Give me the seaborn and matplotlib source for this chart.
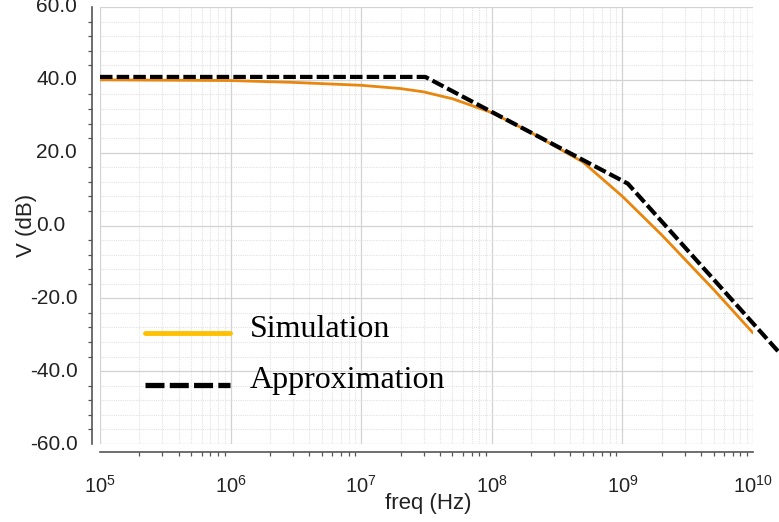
import numpy as np
import pandas as pd
import matplotlib
matplotlib.use("Agg")
import matplotlib.pyplot as plt
import matplotlib.transforms as mtransforms
import seaborn as sns
from matplotlib.ticker import MultipleLocator, LogLocator, NullFormatter
from matplotlib.lines import Line2D
from matplotlib.legend_handler import HandlerLine2D

# ---- data ----
sim_freq = [1e5, 1e6, 3e6, 1e7, 2e7, 3e7, 5e7, 1e8, 2e8, 5e8, 1e9, 2e9, 5e9, 1e10]
sim_db = [40.0, 39.8, 39.3, 38.5, 37.6, 36.7, 34.8, 31.0, 25.5, 17.4, 8.0, -2.6, -17.6, -29.5]

approx_freq = [1e5, 3.1e7, 1.1e9, 2e10]
approx_db = [40.8, 40.8, 11.5, -38.9]

legend_labels = ["Simulation", "Approximation"]
y_ticks = [-60, -40, -20, 0, 20, 40, 60]

sns.set_style("white")
plt.rcParams["font.family"] = ["Liberation Sans", "DejaVu Sans"]
plt.rcParams["mathtext.fontset"] = "custom"
plt.rcParams["mathtext.rm"] = "Liberation Sans"
plt.rcParams["mathtext.it"] = "Liberation Sans"
plt.rcParams["mathtext.bf"] = "Liberation Sans"
plt.rcParams["mathtext.default"] = "regular"

W, H = 779, 522
fig = plt.figure(figsize=(W / 100, H / 100), dpi=100)
ax = fig.add_axes([100 / W, 1 - 444 / H, 653 / W, 437 / H])

sim_df = pd.DataFrame({"freq": sim_freq, "dB": sim_db})
app_df = pd.DataFrame({"freq": approx_freq, "dB": approx_db})

sns.lineplot(data=sim_df, x="freq", y="dB", ax=ax, color="#E8860E", lw=2.0, zorder=3)
sns.lineplot(data=app_df, x="freq", y="dB", ax=ax, color="black", lw=3.0,
             linestyle=(0, (3.0, 1.0)), clip_on=False, zorder=4)

ax.set_xscale("log")
ax.set_xlim(1e5, 1e10)
ax.set_ylim(-60, 60)
ax.set_yticks(y_ticks)
ax.set_yticklabels([])
ax.yaxis.set_minor_locator(MultipleLocator(4))
ax.xaxis.set_minor_locator(LogLocator(base=10, subs=np.arange(2, 10)))
ax.xaxis.set_minor_formatter(NullFormatter())

# y tick labels: digits start at a common left position, minus hangs out
trans = mtransforms.blended_transform_factory(ax.transAxes, ax.transData)
for v in y_ticks:
    xpos = -0.098 if v >= 0 else -0.107
    ax.text(xpos, v, f"{v:.1f}", transform=trans, ha="left", va="center",
            fontsize=15, color="#222222", clip_on=False)

ax.grid(which="major", color="#d2d2d2", lw=0.9, ls="-")
ax.grid(which="minor", color="#e2e2e2", lw=0.8, ls=(0, (1, 1)))
ax.set_axisbelow(True)

sns.despine(ax=ax, offset=6)
for s in ["left", "bottom"]:
    ax.spines[s].set_color("#555555")
    ax.spines[s].set_linewidth(1.2)

ax.tick_params(which="major", direction="out", length=4.5, width=1.0, color="#555555",
               labelsize=14.5, labelcolor="#222222")
ax.tick_params(which="minor", direction="out", length=3, width=0.9, color="#555555")
ax.tick_params(axis="x", which="major", pad=12)
ax.tick_params(axis="y", which="minor", left=True)
ax.tick_params(axis="x", which="minor", bottom=True)

ax.set_xlabel("freq (Hz)", fontsize=16, color="#222222")
ax.set_ylabel("V (dB)", fontsize=16, color="#222222")
ax.xaxis.set_label_coords(0.502, -0.113)
ax.yaxis.set_label_coords(-0.097, 0.5)


class LoweredLine(HandlerLine2D):
    def create_artists(self, legend, orig_handle, xdescent, ydescent,
                       width, height, fontsize, trans):
        return super().create_artists(legend, orig_handle, xdescent, ydescent + 11.5,
                                      width, height, fontsize, trans)


handles = [Line2D([], [], color="#FFC000", lw=3.5),
           Line2D([], [], color="black", lw=3.8, ls=(0, (3.6, 1.0)))]
ax.legend(handles, legend_labels, loc="upper left", bbox_to_anchor=(0.069, 0.297),
          frameon=False, prop={"family": "Liberation Serif", "size": 23},
          handlelength=2.66, handletextpad=0.62, labelspacing=0.7,
          borderaxespad=0, borderpad=0, labelcolor="black",
          handler_map={Line2D: LoweredLine()})

fig.savefig("out.png", dpi=100)
